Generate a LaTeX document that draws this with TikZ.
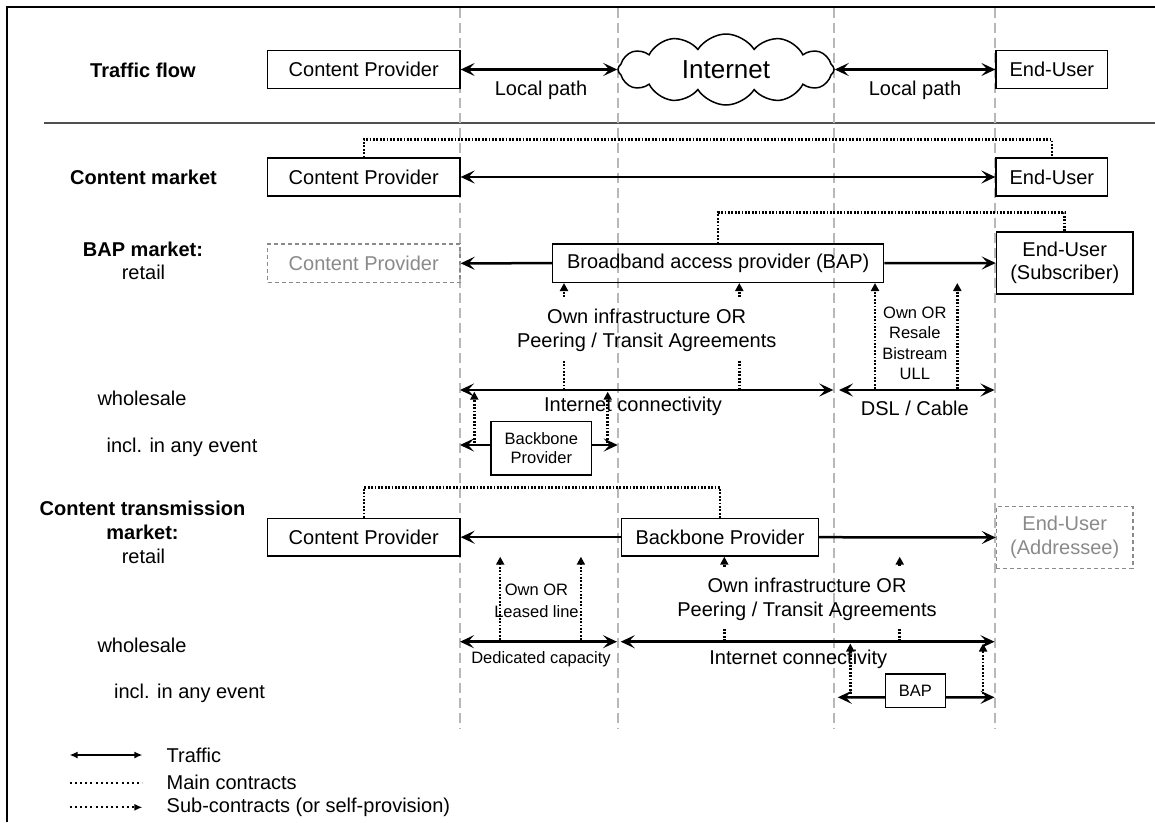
\documentclass[tikz,border=0pt]{standalone}
\usepackage{fontspec}
\setmainfont{Liberation Sans}
\usetikzlibrary{arrows.meta,shapes.symbols}
\definecolor{vgray}{HTML}{B8B8B8}
\definecolor{ggray}{HTML}{8A8A8A}
\definecolor{sepgray}{HTML}{505050}
\begin{document}
\begin{tikzpicture}[x=1pt,y=-1pt,
  every node/.style={font=\fontsize{20}{23.4}\selectfont, inner sep=0pt},
  box/.style={draw, line width=1.3pt, align=center},
  gbox/.style={draw=ggray, line width=1.3pt, dash pattern=on 4pt off 3pt, text=ggray, align=center},
  small/.style={font=\fontsize{16.5}{20.5}\selectfont, align=center},
  lbl/.style={align=center, font=\fontsize{20}{23.8}\selectfont},
  head/.style={font=\bfseries\fontsize{20}{23.4}\selectfont, align=center},
  traffic/.style={line width=2.5pt, >={Stealth[length=14pt,width=13pt,inset=6pt]}},
  main/.style={line width=2.5pt, dash pattern=on 1.8pt off 1.6pt},
  sub/.style={line width=2.5pt, dash pattern=on 1.8pt off 1.6pt, -{Triangle[length=8pt,width=8pt]}},
  vline/.style={draw=vgray, line width=1.2pt, dash pattern=on 10pt off 5pt},
]
\useasboundingbox (0,0) rectangle (1155,822);
\fill[white] (0,0) rectangle (1155,822);
% frame and guides
\draw[line width=2pt] (1155,6.5) -- (6.5,6.5) -- (6.5,822);
\draw[sepgray, line width=1.5pt] (44,123) -- (1155,123);
\foreach \x in {460,618,834,995} \draw[vline] (\x,7.5) -- (\x,728);

% ---------- Traffic flow ----------
\node[head] (t1) at (143,70) {Traffic flow};
\node[box, minimum width=192.5pt, minimum height=37.6pt] (cp1) at (363.75,69.5) {Content Provider};
\node[cloud, draw, fill=white, line width=1.5pt, cloud puffs=12, cloud puff arc=115, cloud ignores aspect, minimum width=216pt, minimum height=71pt, font=\fontsize{26}{30}\selectfont] (net) at (726,69.5) {Internet};
\node[box, minimum width=111.6pt, minimum height=37.6pt] (eu1) at (1051.8,69.5) {End-User};
\draw[traffic,<->] (cp1.east) -- (net.west);
\draw[traffic,<->] (net.east) -- (eu1.west);
\node (lp1) at (541,90.5) {Local path};
\node (lp2) at (915,90) {Local path};

% ---------- Content market ----------
\node[head] (t2) at (143.5,177) {Content market};
\node[box, minimum width=192.5pt, minimum height=38pt] (cp2) at (363.75,177) {Content Provider};
\node[box, minimum width=111.6pt, minimum height=38pt] (eu2) at (1051.8,177) {End-User};
\draw[traffic,<->] (cp2.east) -- (eu2.west);
\draw[main] (cp2.north) -- ++(0,-18) -| (eu2.north);

% ---------- BAP market ----------
\node[head] (t3) at (143,249.5) {BAP market:};
\node (t3r) at (143.5,272.5) {retail};
\node[gbox, minimum width=192.5pt, minimum height=38.5pt] (cp3) at (363.75,263.3) {Content Provider};
\node[box, minimum width=331pt, minimum height=38.3pt] (bap) at (718.2,263.2) {Broadband access provider (BAP)};
\node[box, minimum width=136.6pt, minimum height=62pt] (eu3) at (1064.7,263) {End-User\\(Subscriber)};
\draw[traffic,->] (bap.west) -- (cp3.east);
\draw[traffic,->] (bap.east) -- (eu3.west);
\draw[main] (bap.north) -- ++(0,-31) -| (eu3.north);

\coordinate (s1) at (564,297);
\coordinate (s2) at (739.3,297);
\draw[sub] (s1) -- (s1 |- bap.south);
\draw[sub] (s2) -- (s2 |- bap.south);
\node[lbl] (oi1) at (646.7,330) {Own infrastructure OR\\Peering / Transit Agreements};

\node (ws1) at (142,398) {wholesale};
\node (ie1) at (182,447) {incl. in any event};
\coordinate (ic1a) at (460,390);
\coordinate (ic1b) at (833.3,390);
\draw[traffic,<->] (ic1a) -- (ic1b);
\node (icl1) at (633,406.7) {Internet connectivity};
\coordinate (dsa) at (839,390);
\coordinate (dsb) at (994.5,390);
\draw[traffic,<->] (dsa) -- (dsb);
\node (dsl) at (914.8,408.3) {DSL / Cable};
\coordinate (m1) at (564,360.7);
\coordinate (m2) at (739.3,360.7);
\draw[main] (m1) -- (m1 |- ic1a);
\draw[main] (m2) -- (m2 |- ic1a);

\coordinate (s3) at (875,389);
\coordinate (s4) at (957.3,389);
\draw[sub] (s3) -- (s3 |- bap.south);
\draw[sub] (s4) -- (s4 |- bap.south);
\node[small] (orr) at (914.8,343.5) {Own OR\\Resale\\Bistream\\ULL};

\node[box, minimum width=100.7pt, minimum height=53.3pt, font=\fontsize{16.5}{19}\selectfont] (bb1) at (541.3,448.3) {Backbone\\Provider};
\coordinate (bb1l) at (460,445);
\coordinate (bb1r) at (617.7,445);
\draw[traffic,->] ([yshift=3.3pt]bb1.west) -- (bb1l);
\draw[traffic,->] ([yshift=3.3pt]bb1.east) -- (bb1r);
\coordinate (s5) at (474.3,443);
\coordinate (s5t) at (474.3,391.7);
\coordinate (s6) at (607.7,443);
\coordinate (s6t) at (607.7,391.7);
\draw[sub] (s5) -- (s5t);
\draw[sub] (s6) -- (s6t);

% ---------- Content transmission market ----------
\node[head] (t4) at (142.5,520.5) {Content transmission\\market:};
\node (t4r) at (143.5,556) {retail};
\node[box, minimum width=192.5pt, minimum height=37.7pt] (cp4) at (363.75,537.2) {Content Provider};
\node[box, minimum width=197pt, minimum height=37.7pt] (bb2) at (720,537.2) {Backbone Provider};
\node[gbox, minimum width=136.6pt, minimum height=61.6pt] (eu4) at (1064.7,537.5) {End-User\\(Addressee)};
\draw[traffic,->] (bb2.west) -- (cp4.east);
\draw[traffic,->] (bb2.east) -- (eu4.west);
\draw[main] (cp4.north) -- ++(0,-30) -| (bb2.north);

\coordinate (s7) at (500.2,640);
\coordinate (s8) at (580.9,640);
\draw[sub] (s7) -- (s7 |- cp4.south);
\draw[sub] (s8) -- (s8 |- cp4.south);
\node[small, font=\fontsize{16.5}{21.5}\selectfont] (ol) at (536.5,601) {Own OR\\Leased line};

\coordinate (s9) at (724.3,567);
\coordinate (s10) at (899.7,566);
\draw[sub] (s9) -- (s9 |- bb2.south);
\draw[sub] (s10) -- (s10 |- bb2.south);
\coordinate (m3) at (724.3,629);
\coordinate (m4) at (899.7,629);
\node[lbl, font=\fontsize{20}{24.4}\selectfont] (oi2) at (807,599.5) {Own infrastructure OR\\Peering / Transit Agreements};

\node (ws2) at (142,645) {wholesale};
\node (ie2) at (189.6,693.3) {incl. in any event};
\coordinate (dca) at (460,641.7);
\coordinate (dcb) at (617,641.7);
\draw[traffic,<->] (dca) -- (dcb);
\node[small] (dcl) at (541,659) {Dedicated capacity};
\coordinate (ic2a) at (620.7,641.7);
\coordinate (ic2b) at (994.5,641.7);
\draw[traffic,<->] (ic2a) -- (ic2b);
\node (icl2) at (798.3,659.3) {Internet connectivity};
\draw[main] (m3) -- (m3 |- ic2a);
\draw[main] (m4) -- (m4 |- ic2a);

\node[box, minimum width=59.6pt, minimum height=33.7pt, font=\fontsize{16.5}{19}\selectfont] (bap2) at (915.4,690.9) {BAP};
\coordinate (b2l) at (837.8,697.3);
\coordinate (b2r) at (994.5,697.3);
\draw[traffic,->] ([yshift=-6.4pt]bap2.west) -- (b2l);
\draw[traffic,->] ([yshift=-6.4pt]bap2.east) -- (b2r);
\coordinate (s11) at (850.3,694);
\coordinate (s11t) at (850.3,643.5);
\coordinate (s12) at (983.1,694);
\coordinate (s12t) at (983.1,643.5);
\draw[sub] (s11) -- (s11t);
\draw[sub] (s12) -- (s12t);

% ---------- Legend ----------
\coordinate (lg1a) at (69.6,755);
\coordinate (lg1b) at (142.4,755);
\coordinate (lg2a) at (69.6,782.7);
\coordinate (lg2b) at (142.4,782.7);
\coordinate (lg3a) at (69.6,807.3);
\coordinate (lg3b) at (142.4,807.3);
\draw[line width=1.5pt, {Latex[length=8pt,width=7pt]}-{Latex[length=8pt,width=7pt]}] (lg1a) -- (lg1b);
\draw[line width=2pt, dash pattern=on 2pt off 3.2pt] (lg2a) -- (lg2b);
\draw[line width=2pt, dash pattern=on 2pt off 3.2pt, -{Latex[length=8pt,width=7pt]}] (lg3a) -- (lg3b);
\node[anchor=west] (lt1) at (166.5,755) {Traffic};
\node[anchor=west] (lt2) at (166.5,782.7) {Main contracts};
\node[anchor=west] (lt3) at (166.5,807.3) {Sub-contracts (or self-provision)};
\end{tikzpicture}
\end{document}
